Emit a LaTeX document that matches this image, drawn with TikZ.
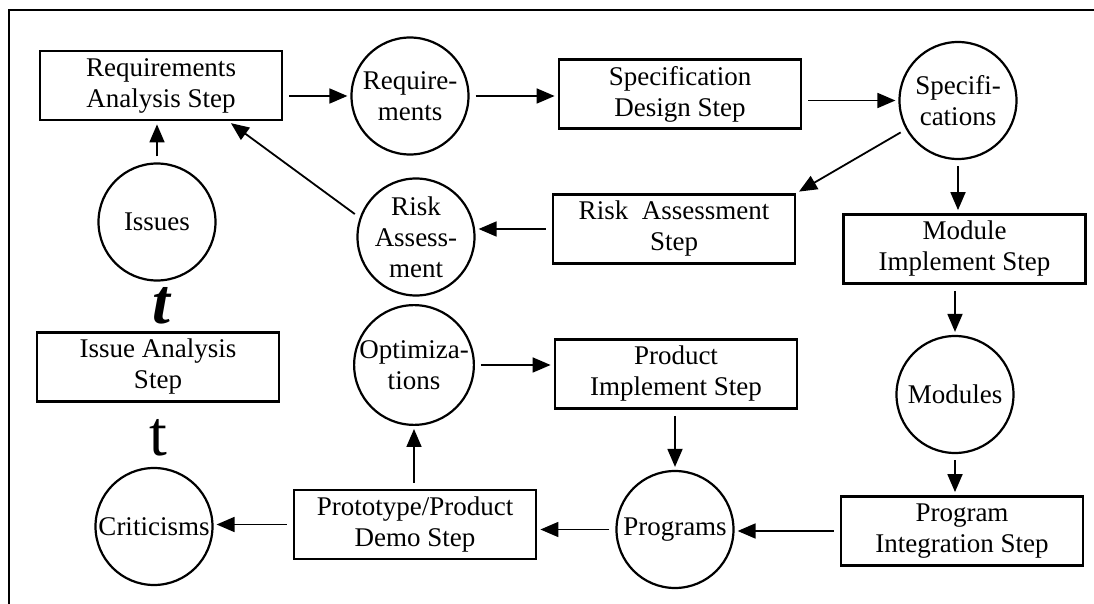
\documentclass[tikz,border=0pt]{standalone}
\usepackage{fontspec}
\setmainfont{Liberation Serif}
\usepackage{tikz}
\usetikzlibrary{arrows.meta}

\tikzset{
  stepbox/.style={draw, line width=1.4pt, minimum width=121pt, minimum height=34.5pt,
    inner sep=0pt, align=center, font=\fontsize{13.5}{15.5}\selectfont},
  datacircle/.style={draw, circle, line width=1.1pt, minimum size=58.5pt,
    inner sep=0pt, align=center, font=\fontsize{13.5}{15.5}\selectfont},
  flow/.style={line width=0.9pt, -{Triangle[length=9pt,width=7.5pt]},
    shorten <=3pt, shorten >=1.5pt},
}

\begin{document}
\begin{tikzpicture}[x=0.5pt, y=-0.5pt]
        \useasboundingbox (0,0) rectangle (1094,604);
        \draw[line width=1pt] (9,604) -- (9,10) -- (1094,10);

        \node[stepbox] (reqstep) at (161,85.5) {Requirements\\Analysis Step};
        \node[datacircle] (req) at (410,96) {Require-\\ments};
        \node[stepbox] (specstep) at (680,94) {Specification\\Design Step};
        \node[datacircle] (spec) at (958,100.5) {Specifi-\\cations};
        \node[stepbox] (riskstep) at (674,229) {Risk\ \ Assessment\\Step};
        \node[datacircle] (risk) at (416,237) {Risk\\Assess-\\ment};
        \node[datacircle] (issues) at (157,222) {Issues};
        \node[stepbox] (modstep) at (964.5,249) {Module\\Implement Step};
        \node[datacircle] (mods) at (955,394.5) {Modules};
        \node[stepbox] (intstep) at (962,531) {Program\\Integration Step};
        \node[datacircle] (progs) at (675,529.5) {Programs};
        \node[stepbox] (prodstep) at (676,374) {Product\\Implement Step};
        \node[datacircle] (opts) at (414,365) {Optimiza-\\tions};
        \node[stepbox] (demostep) at (415,524.5) {Prototype/Product\\Demo Step};
        \node[datacircle] (crits) at (154,526.5) {Criticisms};
        \node[stepbox] (issstep) at (158,367) {Issue Analysis\\Step};
        \node (tup) at (161,306) {\fontsize{32}{34}\selectfont\bfseries\itshape t};
        \node (tlow) at (158,438) {\fontsize{32}{34}\selectfont t};

        \draw[flow] (reqstep.east |- req) -- (req.west);
        \draw[flow] (req.east) -- (req.east -| specstep.west);
        \draw[flow] (specstep.east |- spec) -- (spec.west);
        \draw[flow] (spec.209) -- (riskstep.north east);
        \draw[flow] (spec.south) -- (spec.south |- modstep.north);
        \draw[flow] (mods.north |- modstep.south) -- (mods.north);
        \draw[flow] (mods.south) -- (mods.south |- intstep.north);
        \draw[flow] (intstep.west) -- (intstep.west -| progs.east);
        \draw[flow] (progs.west) -- (progs.west -| demostep.east);
        \draw[flow] (prodstep.south -| progs.north) -- (progs.north);
        \draw[flow] (opts.east) -- (opts.east -| prodstep.west);
        \draw[flow] (demostep.north -| opts.south) -- (opts.south);
        \draw[flow] (demostep.west) -- (demostep.west -| crits.east);
        \draw[flow] (issues.north) -- (issues.north |- reqstep.south);
        \draw[flow] (risk.161) -- (reqstep.-28);
        \draw[flow] (riskstep.west) -- (riskstep.west -| risk.east);
\end{tikzpicture}
\end{document}
